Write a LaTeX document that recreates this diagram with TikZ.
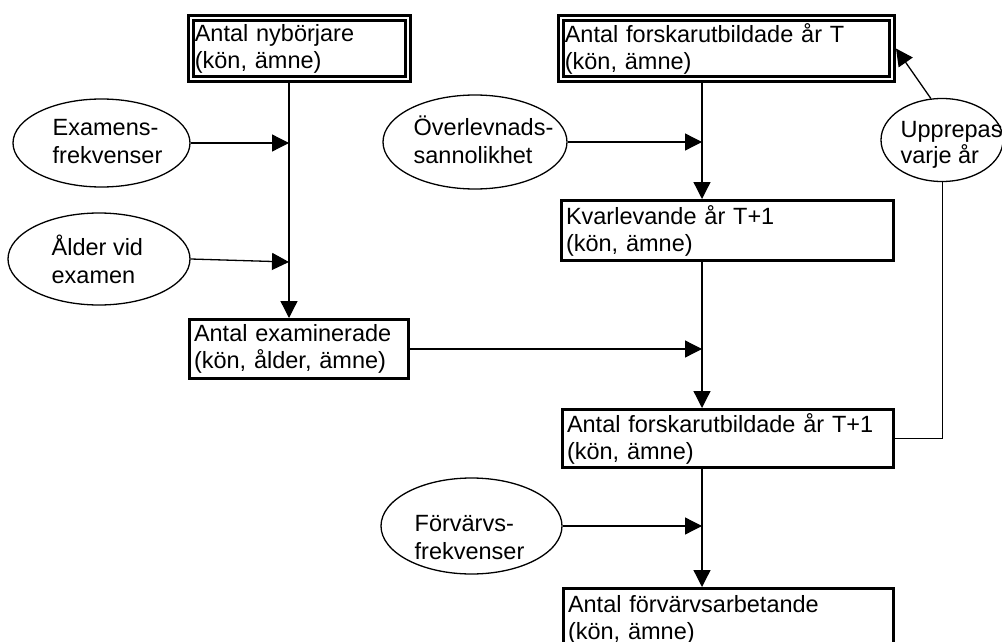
\documentclass[tikz,border=0pt]{standalone}
\usepackage{fontspec}
\setmainfont{Liberation Sans}
\usetikzlibrary{arrows.meta, shapes.geometric, calc}

\begin{document}
\begin{tikzpicture}[x=1pt, y=-1pt, line width=1.3pt,
  box/.style={draw, rectangle, line width=3pt, outer sep=1.5pt, inner xsep=4.5pt, inner ysep=0pt,
              anchor=north west, align=left, font=\fontsize{23.5}{27}\selectfont},
  dbox/.style={box, double, line width=2.6pt, double distance=2.4pt, outer sep=3.8pt, inner xsep=4pt},
  oval/.style={draw, ellipse, line width=1.3pt, inner sep=0pt},
  lbl/.style={anchor=base west, align=left, inner sep=0pt, font=\fontsize{23.5}{28}\selectfont},
  arr/.style={-{Triangle[length=17pt, width=17pt]}, line width=1.3pt}]

  \path[use as bounding box, clip] (0,0) rectangle (1002,642);
  \fill[white] (0,0) rectangle (1002,642);

  \coordinate (L) at (289,0);
  \coordinate (R) at (702,0);

  % boxes
  \node[dbox, minimum width=217.4, minimum height=61.4, text width=209.4] (Nyb)   at (187,14)  {Antal nybörjare\\(kön, ämne)};
  \node[box,  minimum width=219,   minimum height=59,   text width=210]   (Exa)   at (188,318) {Antal examinerade\\(kön, ålder, ämne)};
  \node[dbox, minimum width=331.4, minimum height=61.4, text width=323.4] (ForT)  at (557,14)  {Antal forskarutbildade år T\\(kön, ämne)};
  \node[box,  minimum width=332,   minimum height=60,   text width=323]   (Kvar)  at (560,199) {Kvarlevande år T+1\\(kön, ämne)};
  \node[box,  minimum width=331,   minimum height=58,   text width=322]   (ForT1) at (561,408) {Antal forskarutbildade år T+1\\(kön, ämne)};
  \node[box,  minimum width=330,   minimum height=62,   text width=321]   (Arb)   at (562,587) {Antal förvärvsarbetande\\(kön, ämne)};

  % ellipses
  \node[oval, minimum width=177, minimum height=88] (ExF) at (101.5,143) {};
  \node[oval, minimum width=182, minimum height=92] (Ald) at (99,259)    {};
  \node[oval, minimum width=184, minimum height=94] (Ovl) at (475,142)   {};
  \node[oval, minimum width=181, minimum height=96] (FvF) at (471.5,526) {};
  \node[oval, minimum width=122, minimum height=83] (Upp) at (942,140)   {};

  \node[lbl] (ExF_t) at (52,163)  {Examens-\\frekvenser};
  \node[lbl] (Ald_t) at (51,283)  {Ålder vid\\examen};
  \node[lbl] (Ovl_t) at (413,163) {Överlevnads-\\sannolikhet};
  \node[lbl] (FvF_t) at (414,559) {Förvärvs-\\frekvenser};
  \node[lbl, font=\fontsize{23.5}{26}\selectfont] (Upp_t) at (900,163) {Upprepas\\varje år};

  \path (Nyb.south -| L)  edge[arr] (Exa.north -| L)
        (ExF.east)        edge[arr] (ExF.east -| L)
        (Ald.east)        edge[arr] ($(Ald.east -| L)+(0,3)$)
        (ForT.south -| R) edge[arr] (Kvar.north -| R)
        (Ovl.east)        edge[arr] (Ovl.east -| R)
        (Kvar.south -| R) edge[arr] (ForT1.north -| R)
        (Exa.east)        edge[arr] (Exa.east -| R)
        (ForT1.south -| R) edge[arr] (Arb.north -| R)
        (FvF.east)        edge[arr] (FvF.east -| R)
        (Upp.105)         edge[arr] (ForT.east)
        ;
  \draw[line width=1pt] (ForT1.east) -| (Upp.south);

\end{tikzpicture}
\end{document}
